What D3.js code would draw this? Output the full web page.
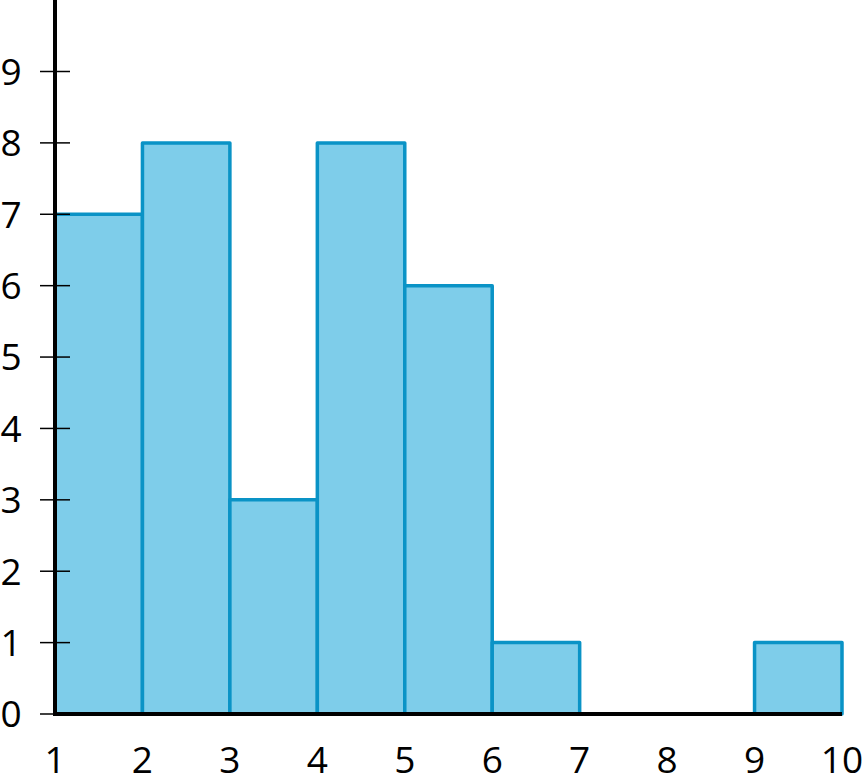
<!DOCTYPE html>
<html>
<head>
<meta charset="utf-8">
<script src="https://cdn.jsdelivr.net/npm/d3@7"></script>
<style>
  body { margin: 0; background: #fff; }
  svg { display: block; }
  text { font-family: "Open Sans", sans-serif; font-size: 37px; fill: #000; }
</style>
</head>
<body>
<svg id="chart" width="864" height="777"></svg>
<script>
// bin edges and counts
const binStarts = [1, 2, 3, 4, 5, 6, 7, 8, 9];
const counts = [7, 8, 3, 8, 6, 1, 0, 0, 1];
const xTicks = [1, 2, 3, 4, 5, 6, 7, 8, 9, 10];
const yTicks = [0, 1, 2, 3, 4, 5, 6, 7, 8, 9];

const svg = d3.select("#chart");

const x = d3.scaleLinear().domain([1, 10]).range([55, 842]);
const y = d3.scaleLinear().domain([0, 9]).range([714, 71.5]);

// bars (skip empty bins)
svg.selectAll(".bar")
  .data(binStarts.map((s, i) => ({ s, c: counts[i] })).filter(d => d.c > 0))
  .join("rect")
  .attr("class", "bar")
  .attr("x", d => x(d.s))
  .attr("y", d => y(d.c))
  .attr("width", d => x(d.s + 1) - x(d.s))
  .attr("height", d => y(0) - y(d.c))
  .attr("fill", "#7ecdea")
  .attr("stroke", "#0a93c6")
  .attr("stroke-width", 3.5)
  .attr("stroke-linejoin", "round");

// y ticks
svg.selectAll(".ytick")
  .data(yTicks)
  .join("line")
  .attr("x1", 40).attr("x2", 70)
  .attr("y1", d => y(d)).attr("y2", d => y(d))
  .attr("stroke", "#000")
  .attr("stroke-width", 1.5);

svg.selectAll(".ylab")
  .data(yTicks)
  .join("text")
  .attr("x", 11)
  .attr("y", d => y(d))
  .attr("dy", "0.36em")
  .attr("text-anchor", "middle")
  .text(d => d);

// x labels
svg.selectAll(".xlab")
  .data(xTicks)
  .join("text")
  .attr("x", d => x(d))
  .attr("y", 773)
  .attr("text-anchor", "middle")
  .text(d => d);

// axis lines
svg.append("line")
  .attr("x1", x(1)).attr("x2", x(1))
  .attr("y1", 0).attr("y2", y(0) + 2)
  .attr("stroke", "#000").attr("stroke-width", 4);
svg.append("line")
  .attr("x1", x(1) - 2).attr("x2", x(10))
  .attr("y1", y(0)).attr("y2", y(0))
  .attr("stroke", "#000").attr("stroke-width", 4);
</script>
</body>
</html>
